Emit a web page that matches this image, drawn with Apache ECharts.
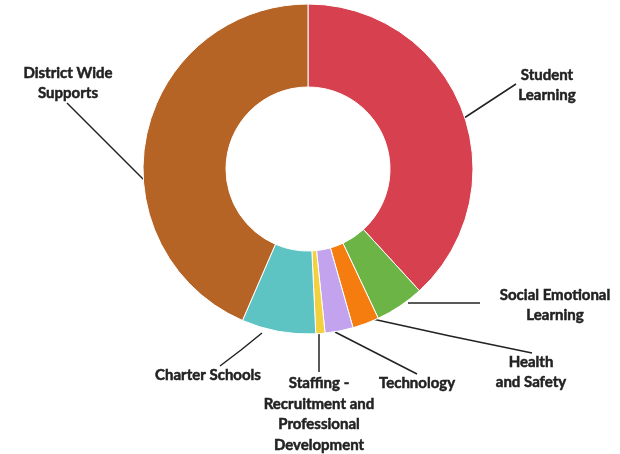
<!DOCTYPE html>
<html><head><meta charset="utf-8">
<script src="https://cdn.jsdelivr.net/npm/echarts@6/dist/echarts.min.js"></script>
<style>html,body{margin:0;padding:0;background:#fff}#c{width:620px;height:454px}</style>
</head><body><div id="c"></div>
<script>
const categories = ['Student\nLearning','Social Emotional\nLearning','Health\nand Safety','Technology','Staffing -\nRecruitment and\nProfessional\nDevelopment','Charter Schools','District Wide\nSupports'];
const values = [38.2, 4.8, 2.6, 2.75, 0.9, 7.25, 43.5];
const colors = ['#D7414F','#6BB445','#F57C0E','#C3A3EE','#F3D03E','#5DC4C3','#B66326'];
// label placement (text block centre) and leader-line points
const labelPos = [[547,85],[555,305],[531,372],[417,383],[319,414],[208,375],[68,83]];
const linePts = [
  [[458,122],[487,103],[516,84]],
  [[408,303],[444,303],[480,303]],
  [[368,318],[450,336],[532,353]],
  [[335,332],[376,353],[417,374]],
  [[319,334],[319,353],[319,372]],
  [[262,333],[241,350],[220,366]],
  [[147,183],[107,143],[67,103]]
];
const chart = echarts.init(document.getElementById('c'));
chart.setOption({
  animation:false,
  series:[{
    type:'pie',
    center:[308,169],
    radius:[82,165],
    startAngle:90,
    clockwise:true,
    avoidLabelOverlap:false,
    itemStyle:{borderColor:'#fff',borderWidth:1},
    label:{show:true,position:'outside',fontFamily:'Lato',fontWeight:'bold',fontSize:15,color:'#222',textBorderColor:'#222',textBorderWidth:0.5,lineHeight:20.5,align:'center'},
    labelLine:{show:true,lineStyle:{color:'#222',width:1.5}},
    labelLayout:function(p){
      const i=p.dataIndex;
      return {x:labelPos[i][0],y:labelPos[i][1],align:'center',verticalAlign:'middle',labelLinePoints:linePts[i],moveOverlap:null,hideOverlap:false};
    },
    data:categories.map((c,i)=>({name:c,value:values[i],itemStyle:{color:colors[i]}}))
  }]
});
</script></body></html>
